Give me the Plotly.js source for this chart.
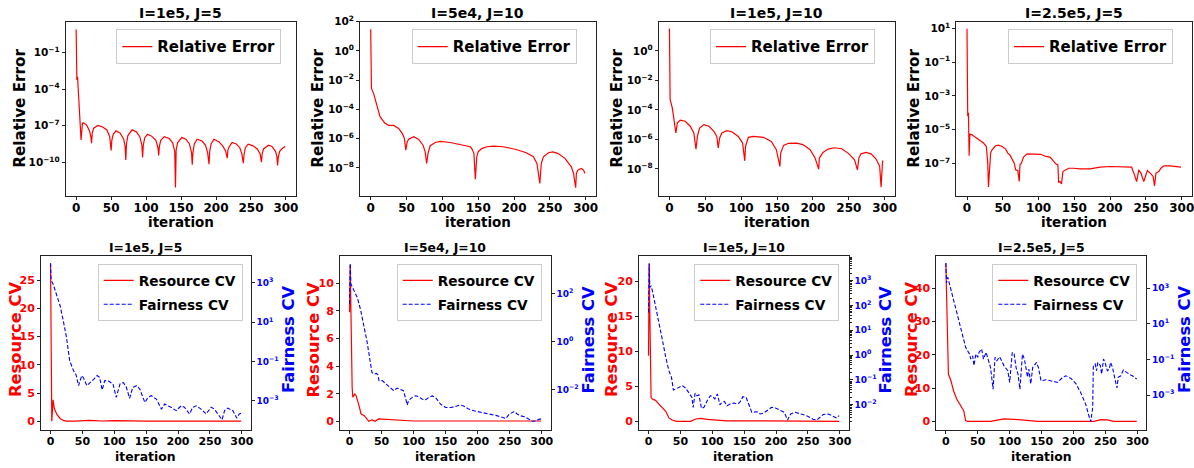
<!DOCTYPE html>
<html><head><meta charset="utf-8">
<script src="https://cdn.plot.ly/plotly-3.0.1.min.js"></script>
<style>html,body{margin:0;padding:0;background:#fff}#chart{width:1194px;height:468px}</style>
</head><body><div id="chart"></div>
<script>
// ---------------- DATA (iteration, value) ----------------
const panelTitles = ['I=1e5, J=5', 'I=5e4, J=10', 'I=1e5, J=10', 'I=2.5e5, J=5'];
const xTickVals = [0, 50, 100, 150, 200, 250, 300];

// Relative error (top row)
const relErr1 = [[0,8.1],[1,5.75e-4],[2,1.07e-3],[7,6.9e-9],[9,1.62e-7],[11,1.74e-7],[15,1.12e-7],[19,4.0e-8],[21,1.26e-8],[22,3.7e-9],
 [23,2.5e-8],[25,6.3e-8],[31,1.05e-7],[38,7.9e-8],[44,4.5e-8],[48,1.26e-8],[50,9.3e-10],
 [51,6.3e-9],[53,2.0e-8],[57,3.8e-8],[63,2.5e-8],[68,7.9e-9],[70,2.0e-9],[71,1.58e-10],
 [72,3.2e-9],[74,1.58e-8],[80,4.6e-8],[86,3.2e-8],[91,1.26e-8],[94,2.5e-9],[95,2.5e-10],
 [96,2.5e-9],[98,1.0e-8],[102,2.0e-8],[108,1.41e-8],[114,6.3e-9],[117,1.58e-9],[118,3.6e-10],
 [119,2.0e-9],[121,6.3e-9],[126,1.29e-8],[133,8.9e-9],[138,4.0e-9],[141,7.9e-10],[142,8.5e-13],
 [143,1.0e-9],[145,4.0e-9],[151,1.07e-8],[157,7.9e-9],[162,3.2e-9],[165,6.3e-10],[166,6.3e-11],
 [167,6.3e-10],[169,3.2e-9],[173,7.9e-9],[180,5.6e-9],[185,2.5e-9],[188,6.3e-10],[190,7.1e-11],
 [191,7.9e-10],[193,3.2e-9],[197,7.9e-9],[204,5.0e-9],[210,2.0e-9],[214,7.9e-10],[216,2.2e-10],
 [217,1.0e-9],[219,2.0e-9],[223,4.2e-9],[229,3.2e-9],[234,1.58e-9],[237,5.0e-10],[239,8.5e-11],
 [240,4.0e-10],[242,1.58e-9],[246,3.1e-9],[253,2.24e-9],[259,1.26e-9],[263,5.0e-10],[265,1.02e-10],
 [266,5.0e-10],[268,1.26e-9],[275,2.5e-9],[280,2.0e-9],[285,7.9e-10],[287,3.2e-10],[288,5.5e-11],
 [289,2.5e-10],[291,7.9e-10],[295,1.41e-9],[299,2.0e-9]];

const relErr2 = [[0,30],[1,2.75e-3],[4,1.26e-3],[9,1.55e-4],[13,3.2e-5],[20,1.12e-5],[25,8.1e-6],[32,8.1e-6],[39,5.0e-6],[44,2.3e-6],
 [47,1.05e-6],[49,1.66e-7],[51,6.3e-7],[53,9.3e-7],[60,1.35e-6],[67,8.9e-7],[73,3.6e-7],[76,1.26e-7],[78,2.0e-8],
 [80,1.0e-7],[83,3.3e-7],[90,5.5e-7],[97,6.5e-7],[111,5.5e-7],[125,4.1e-7],[139,2.8e-7],[141,2.1e-7],[144,1.0e-7],[146,1.7e-9],
 [148,5.8e-8],[150,1.29e-7],[155,2.1e-7],[162,2.8e-7],[171,3.1e-7],[185,2.8e-7],[203,1.82e-7],[217,1.1e-7],[227,5.8e-8],[232,2.0e-8],[236,8.7e-10],
 [238,2.0e-8],[241,5.8e-8],[248,1.1e-7],[254,1.26e-7],[261,1.0e-7],[271,4.5e-8],[280,1.2e-8],[283,4.2e-9],[286,4.4e-10],
 [287,4.2e-9],[289,7.1e-9],[294,9.1e-9],[297,7.1e-9],[299,4.2e-9]];

const relErr3 = [[0,33],[1,5.0e-4],[4,1.38e-4],[6,3.7e-5],[9,2.7e-6],[11,1.29e-5],[15,2.0e-5],[22,1.7e-5],[29,7.8e-6],[34,2.7e-6],[37,2.2e-7],
 [39,1.58e-6],[42,5.9e-6],[48,1.0e-5],[55,7.8e-6],[62,3.5e-6],[66,1.58e-6],[68,2.6e-7],
 [70,1.26e-6],[73,2.7e-6],[80,3.9e-6],[87,3.3e-6],[96,1.58e-6],[102,5.6e-7],[105,3.5e-8],
 [106,3.3e-7],[110,1.38e-6],[117,1.58e-6],[131,1.38e-6],[142,7.2e-7],[149,2.0e-7],[154,1.45e-8],
 [155,1.17e-7],[159,3.9e-7],[166,5.4e-7],[177,5.6e-7],[186,4.4e-7],[196,2.0e-7],[203,5.4e-8],[208,9.5e-9],
 [209,5.4e-8],[214,1.29e-7],[221,2.2e-7],[230,2.7e-7],[240,2.3e-7],[249,1.17e-7],[258,4.1e-8],[262,8.5e-9],
 [264,5.4e-8],[267,1.05e-7],[274,1.29e-7],[281,1.05e-7],[288,4.6e-8],[293,1.45e-8],[295,5.6e-10],[297,3.2e-8],[298,3.5e-8]];

const relErr4 = [[0,9.5],[1,6.3e-5],[2,1.0e-4],[3,2.9e-7],[4,5.5e-6],[7,5.0e-6],[12,3.6e-6],[19,2.3e-6],[23,1.62e-6],[27,1.02e-6],[29,1.05e-7],[30,4.0e-9],
 [33,4.1e-7],[35,6.5e-7],[40,1.12e-6],[44,1.23e-6],[49,1.02e-6],[54,7.1e-7],[57,4.1e-7],[60,3.2e-7],[63,1.82e-7],[66,1.05e-7],[68,4.2e-8],[71,3.8e-8],[73,8.5e-9],
 [74,8.3e-8],[76,1.05e-7],[79,2.4e-7],[84,3.7e-7],[93,3.7e-7],[103,3.5e-7],[110,2.6e-7],[116,2.4e-7],[120,1.5e-7],[124,9.5e-8],[127,8.3e-8],[128,7.4e-9],[130,8.5e-9],[132,6.2e-9],
 [134,3.3e-8],[137,3.8e-8],[142,5.2e-8],[149,5.2e-8],[158,4.8e-8],[172,4.8e-8],[186,6.0e-8],[200,6.6e-8],[219,6.6e-8],[230,6.0e-8],[234,2.1e-8],[237,8.5e-9],
 [240,4.2e-8],[243,2.7e-8],[247,8.5e-9],[252,3.8e-8],[256,2.7e-8],[260,1.7e-8],[262,4.7e-9],[264,2.7e-8],[268,3.3e-8],[271,5.2e-8],[275,7.2e-8],[284,7.2e-8],[299,6.0e-8]];

// Resource CV (bottom row, left axis)
const resCV5 = [[0,27.9],[2,0.0],[4,3.8],[6,2.2],[10,1.2],[15,0.5],[20,0.15],[25,0.02],[40,0.02],[50,0.1],[60,0.15],[70,0.1],[80,0.05],[100,0.1],[120,0.05],[150,0.04],[200,0.03],[250,0.02],[299,0.02]];
const resCV6 = [[0,7.9],[1,11.3],[4,2.46],[5,1.74],[8,1.98],[10,1.86],[14,1.26],[18,0.53],[23,0.41],[27,0.17],[30,0.0],[35,0.1],[40,0.0],[45,0.17],[58,0.14],[79,0.05],[100,0.02],[150,0.02],[200,0.02],[250,0.02],[299,0.02]];
const resCV7 = [[0,9.4],[1,22.6],[2,15.8],[4,3.4],[6,3.2],[11,3.0],[17,2.4],[22,1.9],[27,1.43],[32,0.48],[37,0.19],[44,0.0],[66,0.0],[74,0.33],[82,0.43],[92,0.29],[108,0.14],[123,0.05],[186,0.05],[250,0.02],[299,0.0]];
const resCV8 = [[0,47.5],[1,36.3],[2,26.3],[4,14.2],[8,12.2],[12,9.2],[17,6.7],[24,4.7],[28,3.2],[31,0.2],[34,0.0],[70,0.0],[81,0.4],[91,0.7],[107,0.6],[128,0.2],[144,0.0],[232,0.0],[243,0.5],[253,0.4],[263,0.0],[299,0.0]];

// Fairness CV (bottom row, right log axis)
const fairCV5 = [[0,1.0e4],[1,1320],[4,890],[9,275],[15,69],[20,12],[25,1.7],[30,0.11],[36,0.034],[40,0.021],[44,5.8e-3],[49,0.019],[52,0.014],[57,5.8e-3],
 [63,8.5e-3],[68,0.0126],[73,0.019],[77,0.0155],[81,3.5e-3],[85,0.0105],[90,0.0105],[98,7.1e-3],[103,1.48e-3],[109,7.1e-3],[114,8.5e-3],[119,4.8e-3],[124,1.32e-3],
 [129,4.8e-3],[135,5.8e-3],[140,3.9e-3],[148,8.1e-4],[153,1.48e-3],[158,1.78e-3],[166,1.2e-3],[174,3.7e-4],[179,6.8e-4],[184,5.5e-4],[189,4.6e-4],[197,3.1e-4],
 [205,5.5e-4],[210,4.6e-4],[218,2.1e-4],[223,4.6e-4],[229,5.5e-4],[236,3.7e-4],[244,2.1e-4],[252,4.6e-4],[257,3.7e-4],[269,1.07e-4],[273,3.1e-4],[278,4.2e-4],
 [286,3.1e-4],[292,1.29e-4],[296,2.1e-4],[299,2.3e-4]];
const fairCV6 = [[0,38],[1,1900],[2,263],[6,162],[12,72],[17,23],[22,5.6],[27,1.12],[32,0.162],[35,0.052],[38,0.046],[42,0.048],[44,0.043],[46,0.024],[51,0.024],
 [56,0.018],[61,0.0148],[65,0.0117],[69,9.1e-3],[74,0.0117],[79,0.0107],[84,9.1e-3],[87,4.8e-3],[90,2.3e-3],[92,3.5e-3],[98,4.8e-3],[103,5.6e-3],[108,5.1e-3],
 [113,4.1e-3],[118,3.7e-3],[124,4.8e-3],[129,5.5e-3],[134,4.8e-3],[142,2.5e-3],[150,1.82e-3],[158,1.82e-3],[165,2.0e-3],[173,2.3e-3],[178,2.1e-3],[186,1.55e-3],
 [194,1.32e-3],[207,1.12e-3],[220,9.5e-4],[231,8.1e-4],[244,6.3e-4],[249,9.5e-4],[257,1.23e-3],[262,9.5e-4],[267,8.1e-4],[273,7.4e-4],[280,5.9e-4],[285,4.8e-4],
 [291,5.0e-4],[296,5.9e-4],[299,5.9e-4]];
const fairCV7 = [[0,52],[1,5000],[2,540],[4,630],[6,400],[11,98],[17,21],[22,3.8],[27,0.81],[32,0.234],[36,0.126],[39,0.039],[43,0.043],[48,0.05],[53,0.059],
 [58,0.047],[63,0.029],[68,0.02],[70,7.8e-3],[73,0.029],[76,0.023],[79,0.025],[83,7.1e-3],[87,7.8e-3],[92,0.0145],[97,0.023],[101,0.021],[104,0.017],[108,0.027],
 [112,9.8e-3],[115,0.0123],[119,0.0135],[123,9.1e-3],[128,0.0107],[134,0.0117],[139,0.0107],[143,0.0123],[148,0.021],[153,0.02],[157,0.0107],[162,4.9e-3],
 [170,5.2e-3],[175,4.2e-3],[180,4.5e-3],[186,5.8e-3],[193,7.8e-3],[199,7.4e-3],[206,5.8e-3],[213,4.9e-3],[218,2.4e-3],[223,4.2e-3],[230,4.9e-3],[238,4.2e-3],
 [248,3.6e-3],[258,2.6e-3],[264,2.4e-3],[269,3.1e-3],[274,4.0e-3],[282,4.2e-3],[290,3.3e-3],[295,2.9e-3],[299,3.6e-3]];
const fairCV8 = [[0,2.6e4],[1,2000],[3,4200],[5,2200],[10,390],[16,55],[21,9.8],[26,2.7],[31,0.48],[34,0.31],[37,0.2],[39,0.105],[42,0.162],[44,0.045],[47,0.2],
 [50,0.132],[52,0.25],[56,0.39],[59,0.105],[63,0.25],[66,0.105],[70,0.035],[74,2.1e-3],[77,0.132],[80,0.085],[84,0.141],[86,0.105],[91,0.045],[97,0.023],[100,5.1e-3],
 [104,0.25],[107,0.2],[110,0.035],[113,0.015],[116,2.1e-3],[120,0.2],[123,0.105],[125,0.035],[128,0.01],[130,0.029],[133,4.2e-3],[136,0.035],[138,0.045],[142,0.068],
 [145,0.035],[149,6.3e-3],[157,7.2e-3],[164,6.3e-3],[175,5.1e-3],[183,0.01],[188,0.012],[196,8.5e-3],[204,4.2e-3],[211,1.41e-3],[219,3.1e-4],[224,6.8e-5],[227,3.2e-5],
 [230,2.0e-4],[231,0.045],[234,0.055],[236,0.023],[238,0.068],[242,0.045],[244,0.015],[247,0.105],[250,0.055],[253,0.023],[256,0.029],[258,0.068],[261,0.035],
 [265,8.9e-3],[268,2.5e-3],[270,0.01],[274,0.012],[278,0.025],[282,0.019],[287,0.015],[292,0.012],[299,7.9e-3]];

// tick labels (decade exponents) and linear ticks
const topLogExp = [[-10,-7,-4,-1], [-8,-6,-4,-2,0,2], [-8,-6,-4,-2,0], [-7,-5,-3,-1,1]];
const rightLogExp = [[-3,-1,1,3], [-2,0,2], [-2,-1,0,1,2,3], [-3,-1,1,3]];
const leftLinTicks = [[0,5,10,15,20,25], [0,2,4,6,8,10], [0,5,10,15,20], [0,10,20,30,40]];

// ---------------- LAYOUT GEOMETRY ----------------
const W = 1194, H = 468;
const FONT = 'DejaVu Sans';
const RED = '#ff0000', BLUE = '#0000ff', SPINE = '#222222';
const topBoxes = [[65.7,295.7],[360,595.7],[658.7,894.7],[956.3,1191.7]];
const botBoxes = [[41,250.7],[340,550.7],[639,848.7],[936.3,1146.3]];
const topY = [21.7,195.7], botY = [255.7,429.7];
const topRanges = [[-12.74,1.54],[-9.9,2.0],[-9.82,1.98],[-8.91,1.4]];
const leftRanges = [[-1.49,29.3],[-0.61,12.0],[-1.2,23.7],[-2.53,49.8]];
const rightRanges = [[-4.48,4.39],[-3.67,3.6],[-3.01,4.01],[-4.95,4.83]];
const topLegend = [116.3,411.7,710,1008];
const botLegend = [97.7,396.7,694.3,992.3];
const yTitleTopX = [20,318,617,914];
const yTitleLeftX = [15,312.5,611,911];
const yTitleRightX = [288,587.5,884.5,1184];

const px = v => v / W, py = v => 1 - v / H;
const xs = p => p.map(d => d[0]), ys = p => p.map(d => d[1]);
const expLabel = e => '10<sup>' + (e < 0 ? '\u2212' : '') + Math.abs(e) + '</sup>';

const relErr = [relErr1, relErr2, relErr3, relErr4];
const resCV = [resCV5, resCV6, resCV7, resCV8];
const fairCV = [fairCV5, fairCV6, fairCV7, fairCV8];

const data = [];
const layout = {
  width: W, height: H, margin: {l:0, r:0, t:0, b:0},
  paper_bgcolor: '#fff', plot_bgcolor: '#fff', showlegend: true,
  font: {family: FONT, color: '#000'}, annotations: []
};

function xAxis(box, anchor, fs) {
  return {domain: [px(box[0]), px(box[1])], anchor: anchor, range: [-14.95, 313.95],
    tickmode: 'array', tickvals: xTickVals, ticktext: xTickVals.map(String),
    ticks: 'outside', ticklen: 3, tickwidth: 1, tickcolor: SPINE, ticklabelstandoff: -2,
    ticklabeloverflow: 'allow',
    showline: true, linecolor: SPINE, linewidth: 1, mirror: true,
    showgrid: false, zeroline: false,
    tickfont: {family: FONT, size: fs, color: '#000', weight: 'bold'}};
}
function ann(text, x, y, size, color, angle) {
  layout.annotations.push({text: text, x: px(x), y: py(y), xref: 'paper', yref: 'paper',
    xanchor: 'center', yanchor: 'middle', showarrow: false, textangle: angle || 0,
    font: {family: FONT, size: size, color: color || '#000', weight: 'bold'}});
}
function legendCfg(x, y, fs) {
  return {x: px(x), y: py(y), xanchor: 'left', yanchor: 'top',
    bgcolor: 'rgba(255,255,255,0.8)', bordercolor: '#cccccc', borderwidth: 1,
    traceorder: 'grouped', tracegroupgap: 3,
    font: {family: FONT, size: fs, color: '#000', weight: 'bold'}};
}

// top row
for (let i = 0; i < 4; i++) {
  const n = i + 1, sfx = n === 1 ? '' : String(n);
  const lg = 'legend' + sfx;
  data.push({x: xs(relErr[i]), y: ys(relErr[i]), xaxis: 'x' + sfx, yaxis: 'y' + sfx,
    mode: 'lines', name: 'Relative Error', line: {color: RED, width: 1.2}, legend: lg, hoverinfo: 'skip'});
  layout['xaxis' + sfx] = xAxis(topBoxes[i], 'y' + sfx, 12);
  layout['yaxis' + sfx] = {domain: [py(topY[1]), py(topY[0])], anchor: 'x' + sfx, type: 'log',
    range: topRanges[i], tickmode: 'array',
    tickvals: topLogExp[i].map(e => Math.pow(10, e)), ticktext: topLogExp[i].map(expLabel),
    ticks: 'outside', ticklen: 3, tickwidth: 1, tickcolor: SPINE, ticklabelstandoff: 0,
    showline: true, linecolor: SPINE, linewidth: 1, mirror: true, showgrid: false, zeroline: false,
    tickfont: {family: FONT, size: 10.5, color: '#000', weight: 'bold'}};
  layout[lg] = legendCfg(topLegend[i], 29.3, 15);
  const cx = (topBoxes[i][0] + topBoxes[i][1]) / 2;
  ann(panelTitles[i], cx, 13, 14);
  ann('iteration', cx, 222, 13.5);
  ann('Relative Error', yTitleTopX[i], 108.7, 15.2, '#000', -90);
}

// bottom row
for (let i = 0; i < 4; i++) {
  const n = i + 5, r = i + 9;
  const lg = 'legend' + n;
  data.push({x: xs(resCV[i]), y: ys(resCV[i]), xaxis: 'x' + n, yaxis: 'y' + n,
    mode: 'lines', name: 'Resource CV', line: {color: RED, width: 1.2}, legend: lg, legendgroup: 'r' + n, hoverinfo: 'skip'});
  data.push({x: xs(fairCV[i]), y: ys(fairCV[i]), xaxis: 'x' + n, yaxis: 'y' + r,
    mode: 'lines', name: 'Fairness CV', line: {color: BLUE, width: 1.1, dash: '4px,2px'}, legend: lg, legendgroup: 'f' + n, hoverinfo: 'skip'});
  layout['xaxis' + n] = xAxis(botBoxes[i], 'y' + n, 11);
  layout['yaxis' + n] = {domain: [py(botY[1]), py(botY[0])], anchor: 'x' + n,
    range: leftRanges[i], tickmode: 'array', tickvals: leftLinTicks[i], ticktext: leftLinTicks[i].map(String),
    ticks: 'outside', ticklen: 3, tickwidth: 1, tickcolor: SPINE,
    showline: true, linecolor: SPINE, linewidth: 1, mirror: false, showgrid: false, zeroline: false,
    tickfont: {family: FONT, size: 11, color: RED, weight: 'bold'}};
  const ry = {overlaying: 'y' + n, side: 'right', anchor: 'x' + n, type: 'log',
    range: rightRanges[i], tickmode: 'array',
    tickvals: rightLogExp[i].map(e => Math.pow(10, e)), ticktext: rightLogExp[i].map(expLabel),
    ticks: 'outside', ticklen: 3, tickwidth: 1, tickcolor: SPINE,
    showline: true, linecolor: SPINE, linewidth: 1, showgrid: false, zeroline: false,
    tickfont: {family: FONT, size: 9, color: BLUE, weight: 'bold'}};
  if (i === 2) {
    const minorVals = [];
    for (let e = -3; e <= 3; e++) for (let k = 2; k <= 9; k++) minorVals.push(k * Math.pow(10, e));
    ry.minor = {tickmode: 'array', tickvals: minorVals, ticks: 'outside', ticklen: 2, tickcolor: SPINE, showgrid: false};
  }
  layout['yaxis' + r] = ry;
  layout[lg] = legendCfg(botLegend[i], 264, 13.7);
  const cx = (botBoxes[i][0] + botBoxes[i][1]) / 2;
  ann(panelTitles[i], cx, 247.5, 12.4);
  ann('iteration', cx, 456, 12.4);
  ann('Resource CV', yTitleLeftX[i], 340, 16.3, RED, -90);
  ann('Fairness CV', yTitleRightX[i], 340, 16.3, BLUE, -90);
}

Plotly.newPlot('chart', data, layout, {displayModeBar: false, staticPlot: true});
</script></body></html>
